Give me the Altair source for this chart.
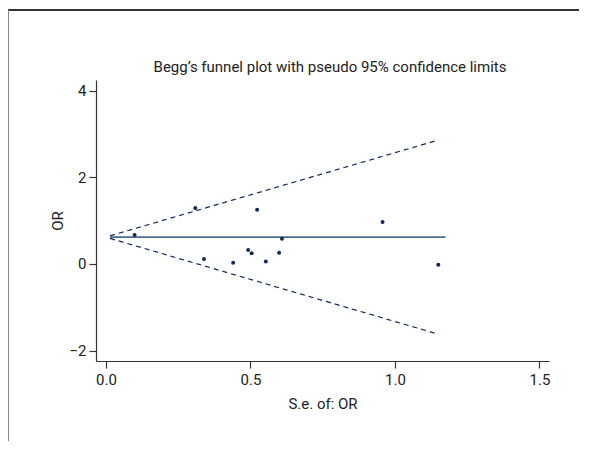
import altair as alt
import pandas as pd

# Study points: standard error of OR vs OR
se_vals = [0.099, 0.309, 0.339, 0.440, 0.492, 0.504, 0.523, 0.553, 0.599, 0.609, 0.957, 1.150]
or_vals = [0.67, 1.29, 0.115, 0.03, 0.32, 0.25, 1.25, 0.06, 0.26, 0.58, 0.97, -0.02]

# Pooled estimate line and pseudo 95% limits (endpoints)
pooled_se = [0.014, 1.175]
pooled_or = [0.62, 0.62]
upper_se = [0.014, 1.150]
upper_or = [0.65, 2.86]
lower_se = [0.014, 1.150]
lower_or = [0.59, -1.62]

x_ticks = [0.0, 0.5, 1.0, 1.5]
y_ticks = [-2, 0, 2, 4]

TITLE = "Begg\u2019s funnel plot with pseudo 95% confidence limits"

FONT = "Roboto"
NAVY = "#0f2a5c"
LINE = "#4d6c94"
AX = "#333333"

pts = pd.DataFrame({"se": se_vals, "or": or_vals})
pooled = pd.DataFrame({"se": pooled_se, "or": pooled_or})
limits = pd.DataFrame({
    "se": upper_se + lower_se,
    "or": upper_or + lower_or,
    "side": ["upper"] * 2 + ["lower"] * 2,
})

xs = alt.Scale(domain=[-0.0346, 1.533], nice=False, zero=False)
ys = alt.Scale(domain=[-2.239, 4.246], nice=False, zero=False)

xax = alt.Axis(values=x_ticks, format=".1f", title="S.e. of: OR", grid=False,
               tickSize=7, labelPadding=4, titlePadding=9)
yax = alt.Axis(values=y_ticks, format="d", title="OR", grid=False,
               tickSize=7, labelPadding=3, titlePadding=3)

line = alt.Chart(pooled).mark_line(color=LINE, strokeWidth=1.6).encode(
    x=alt.X("se:Q", scale=xs, axis=xax),
    y=alt.Y("or:Q", scale=ys, axis=yax),
)

dashed = alt.Chart(limits).mark_line(color=NAVY, strokeWidth=1.2, strokeDash=[5, 4]).encode(
    x=alt.X("se:Q", scale=xs),
    y=alt.Y("or:Q", scale=ys),
    detail="side:N",
)

points = alt.Chart(pts).mark_circle(color=NAVY, size=16, opacity=1).encode(
    x=alt.X("se:Q", scale=xs),
    y=alt.Y("or:Q", scale=ys),
)

frame_top = alt.Chart(pts).mark_rule(color="#333333", strokeWidth=1.5, clip=False).encode(
    x=alt.value(-88), x2=alt.value(500), y=alt.value(-70)
)
frame_left = alt.Chart(pts).mark_rule(color="#888888", strokeWidth=1.5, clip=False).encode(
    x=alt.value(-88), y=alt.value(-70), y2=alt.value(380)
)

title = alt.Chart(pd.DataFrame({"t": [TITLE]})).mark_text(
    font=FONT, fontSize=15, color="#222222", align="center", baseline="middle",
    clip=False,
).encode(text="t:N", x=alt.value(234), y=alt.value(-13))

chart = alt.layer(frame_top, frame_left, dashed, line, points, title).properties(
    width=453,
    height=281,
    background="white",
    autosize=alt.AutoSizeParams(type="none"),
    padding={"left": 88, "top": 72, "right": 30, "bottom": 80},
).configure_view(stroke=None).configure_axis(
    domainColor=AX, tickColor=AX, labelColor="#222222", titleColor="#222222",
    labelFont=FONT, titleFont=FONT, labelFontSize=15, titleFontSize=15,
    titleFontWeight="normal", domainWidth=1.2, tickWidth=1.2,
)

chart.save("out.html", embed_options={"renderer": "svg", "actions": False})
